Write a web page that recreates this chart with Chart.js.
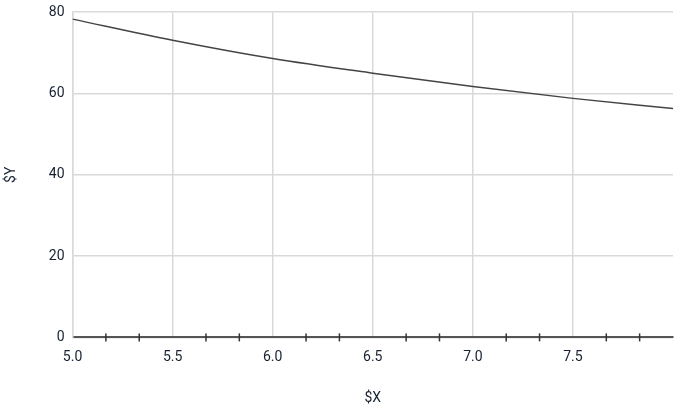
<!DOCTYPE html>
<html>
<head>
<meta charset="utf-8">
<script src="https://cdn.jsdelivr.net/npm/chart.js@4"></script>
<style>
  html, body { margin: 0; padding: 0; background: #fff; }
  #wrap { width: 680px; height: 411px; }
</style>
</head>
<body>
<div id="wrap"><canvas id="curve"></canvas></div>
<script>
// values
const xValues = [5.0, 5.5, 6.0, 6.5, 7.0, 7.5, 8.0];
const yValues = [78.3, 73.1, 68.6, 65.0, 61.7, 58.8, 56.3];
// small marks on the zero line
const markX = [5.1667, 5.3333, 5.6667, 5.8333, 6.1667, 6.3333, 6.6667, 6.8333,
               7.1667, 7.3333, 7.6667, 7.8333];
const yTicks = [0, 20, 40, 60, 80];

const textColor = '#172030';
const gridColor = '#d9d9d9';

let curvePoints = [];
xValues.forEach((x, i) => {
  curvePoints.push({ x: x, y: yValues[i] });
});
let markPoints = markX.map(x => ({ x: x, y: 0 }));

const ctx = document.getElementById('curve');

new Chart(ctx, {
  type: 'scatter',
  data: {
    datasets: [
      {
        label: 'curve',
        data: curvePoints,
        showLine: true,
        borderColor: '#444444',
        borderWidth: 1.5,
        pointRadius: 0,
        cubicInterpolationMode: 'monotone',
        fill: false
      },
      {
        label: 'marks',
        data: markPoints,
        pointStyle: 'line',
        rotation: 90,
        pointRadius: 4,
        borderColor: '#333333',
        borderWidth: 1.5,
        clip: false
      }
    ]
  },
  options: {
    responsive: true,
    maintainAspectRatio: false,
    animation: false,
    layout: {
      padding: { top: 0, right: 7, left: 0, bottom: 0 }
    },
    plugins: {
      legend: { display: false },
      tooltip: { enabled: false }
    },
    scales: {
      x: {
        type: 'linear',
        min: 5,
        max: 8,
        afterBuildTicks: axis => {
          axis.ticks = axis.ticks.filter(t => t.value < 7.99);
        },
        ticks: {
          stepSize: 0.5,
          color: textColor,
          font: { family: 'Roboto', size: 14 },
          padding: 12,
          callback: v => Number(v).toFixed(1)
        },
        grid: {
          color: gridColor,
          lineWidth: 1.5,
          drawTicks: false
        },
        border: { color: '#555555', width: 2 },
        title: {
          display: true,
          text: '$X',
          color: textColor,
          font: { family: 'Roboto', size: 14 },
          padding: { top: 12, bottom: 4 }
        }
      },
      y: {
        min: 0,
        max: 80,
        afterBuildTicks: axis => {
          axis.ticks = yTicks.map(v => ({ value: v }));
        },
        ticks: {
          color: textColor,
          font: { family: 'Roboto', size: 14, lineHeight: 0.6 },
          padding: 8
        },
        grid: {
          color: gridColor,
          lineWidth: 1.5,
          drawTicks: false
        },
        border: { color: gridColor, width: 1.5 },
        title: {
          display: true,
          text: '$Y',
          color: textColor,
          font: { family: 'Roboto', size: 14 },
          padding: { top: 3, bottom: 21 }
        }
      }
    }
  }
});
</script>
</body>
</html>
